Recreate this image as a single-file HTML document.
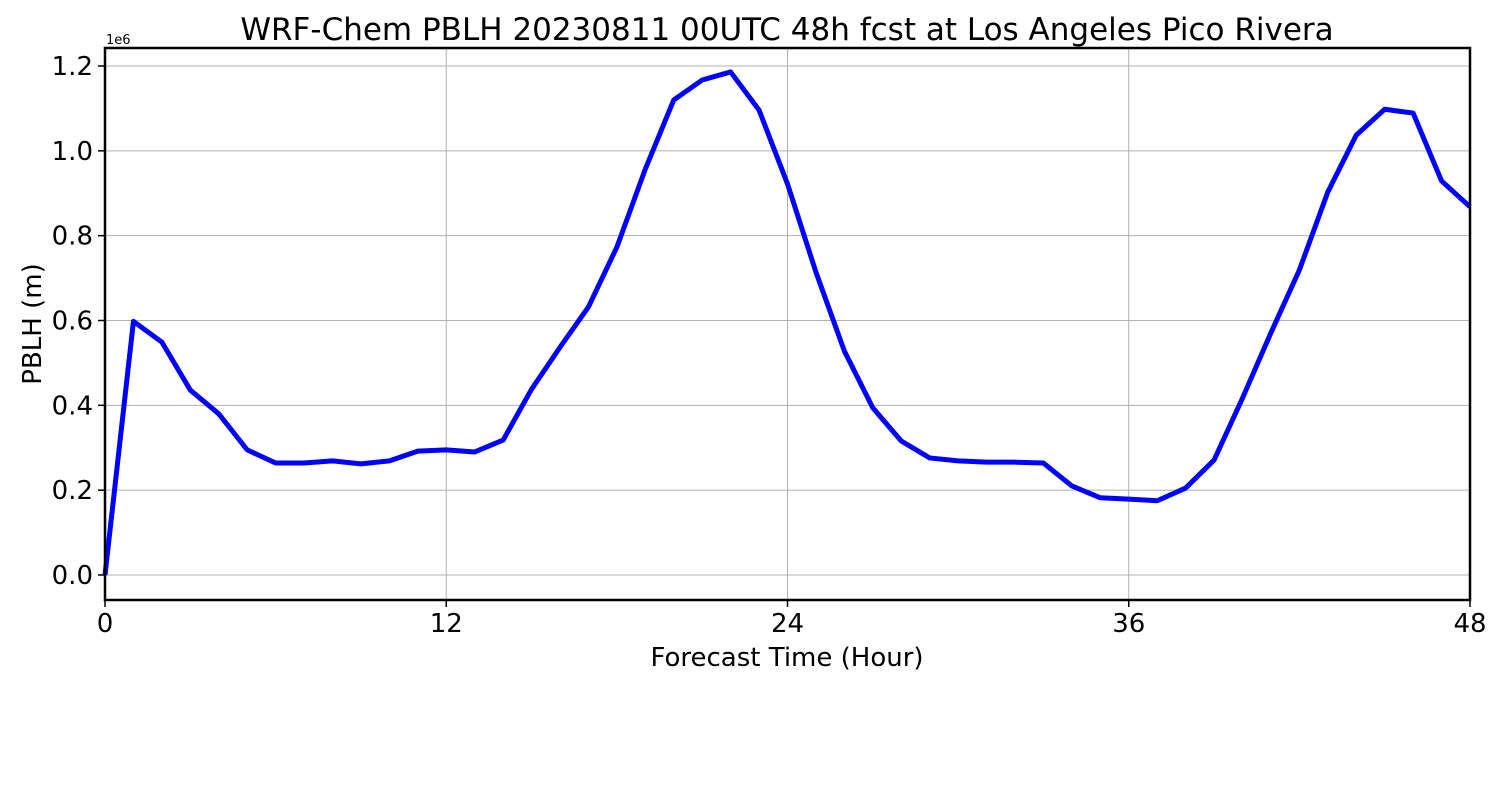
<!DOCTYPE html>
<html><head><meta charset="utf-8"><style>
body{margin:0;background:#fff;width:1500px;height:800px;overflow:hidden}
svg text{font-family:"DejaVu Sans","Liberation Sans",sans-serif}
</style></head><body>
<svg id="chart" width="1500" height="800" xmlns="http://www.w3.org/2000/svg">
<g id="grid"></g>
<g id="ticks"></g>
<path id="line" fill="none" stroke="#0000ff" stroke-width="5" stroke-linejoin="round"/>
<rect x="105" y="48" width="1365" height="552" fill="none" stroke="#000" stroke-width="2.5"/>
<text x="787" y="40" font-size="31" text-anchor="middle">WRF-Chem PBLH  20230811 00UTC 48h fcst at Los Angeles Pico Rivera</text>
<text transform="translate(41,324) rotate(-90)" font-size="26" text-anchor="middle">PBLH  (m)</text>
<text x="787" y="666" font-size="26" text-anchor="middle">Forecast Time (Hour)</text>
<text x="106" y="44" font-size="13">1e6</text>
</svg>
<script>
const hours=[0,1,2,3,4,5,6,7,8,9,10,11,12,13,14,15,16,17,18,19,20,21,22,23,24,25,26,27,28,29,30,31,32,33,34,35,36,37,38,39,40,41,42,43,44,45,46,47,48];
const pblh=[0,0.598,0.549,0.436,0.380,0.295,0.264,0.264,0.269,0.262,0.269,0.292,0.295,0.290,0.318,0.438,0.537,0.632,0.773,0.957,1.120,1.167,1.186,1.096,0.922,0.714,0.528,0.394,0.316,0.276,0.269,0.266,0.266,0.264,0.210,0.182,0.179,0.175,0.205,0.271,0.417,0.571,0.719,0.903,1.037,1.098,1.089,0.929,0.868];
const xTicks=[0,12,24,36,48];
const yTicks=[0,0.2,0.4,0.6,0.8,1.0,1.2];
const yTickLabels=["0.0","0.2","0.4","0.6","0.8","1.0","1.2"];
const X=v=>105+v*(1365/48);
const Y=v=>575-v*(509/1.2);
const ns="http://www.w3.org/2000/svg";
const grid=document.getElementById('grid'),ticks=document.getElementById('ticks');
function mk(tag,attrs,parent){const e=document.createElementNS(ns,tag);for(const k in attrs)e.setAttribute(k,attrs[k]);parent.appendChild(e);return e;}
xTicks.forEach(t=>{
  const g=mk('line',{x1:X(t),x2:X(t),y1:48,y2:600,stroke:'#b0b0b0','stroke-width':1},grid);
  
  
  const tk=mk('line',{x1:X(t),x2:X(t),y1:600,y2:607,stroke:'#000','stroke-width':1.5},ticks);
  
  
  const tx=mk('text',{x:X(t),y:632,'font-size':26,'text-anchor':'middle'},ticks);
  tx.textContent=t;
  
  
});
yTicks.forEach((t,i)=>{
  const g=mk('line',{x1:105,x2:1470,y1:Y(t),y2:Y(t),stroke:'#b0b0b0','stroke-width':1},grid);
  
  
  const tk=mk('line',{x1:98,x2:105,y1:Y(t),y2:Y(t),stroke:'#000','stroke-width':1.5},ticks);
  
  
  const tx=mk('text',{x:93,y:Y(t)+9,'font-size':26,'text-anchor':'end'},ticks);
  tx.textContent=yTickLabels[i];
  
  
});
document.getElementById('line').setAttribute('d',hours.map((h,i)=>(i?'L':'M')+X(h)+','+Y(pblh[i])).join(''));
</script>
</body></html>
